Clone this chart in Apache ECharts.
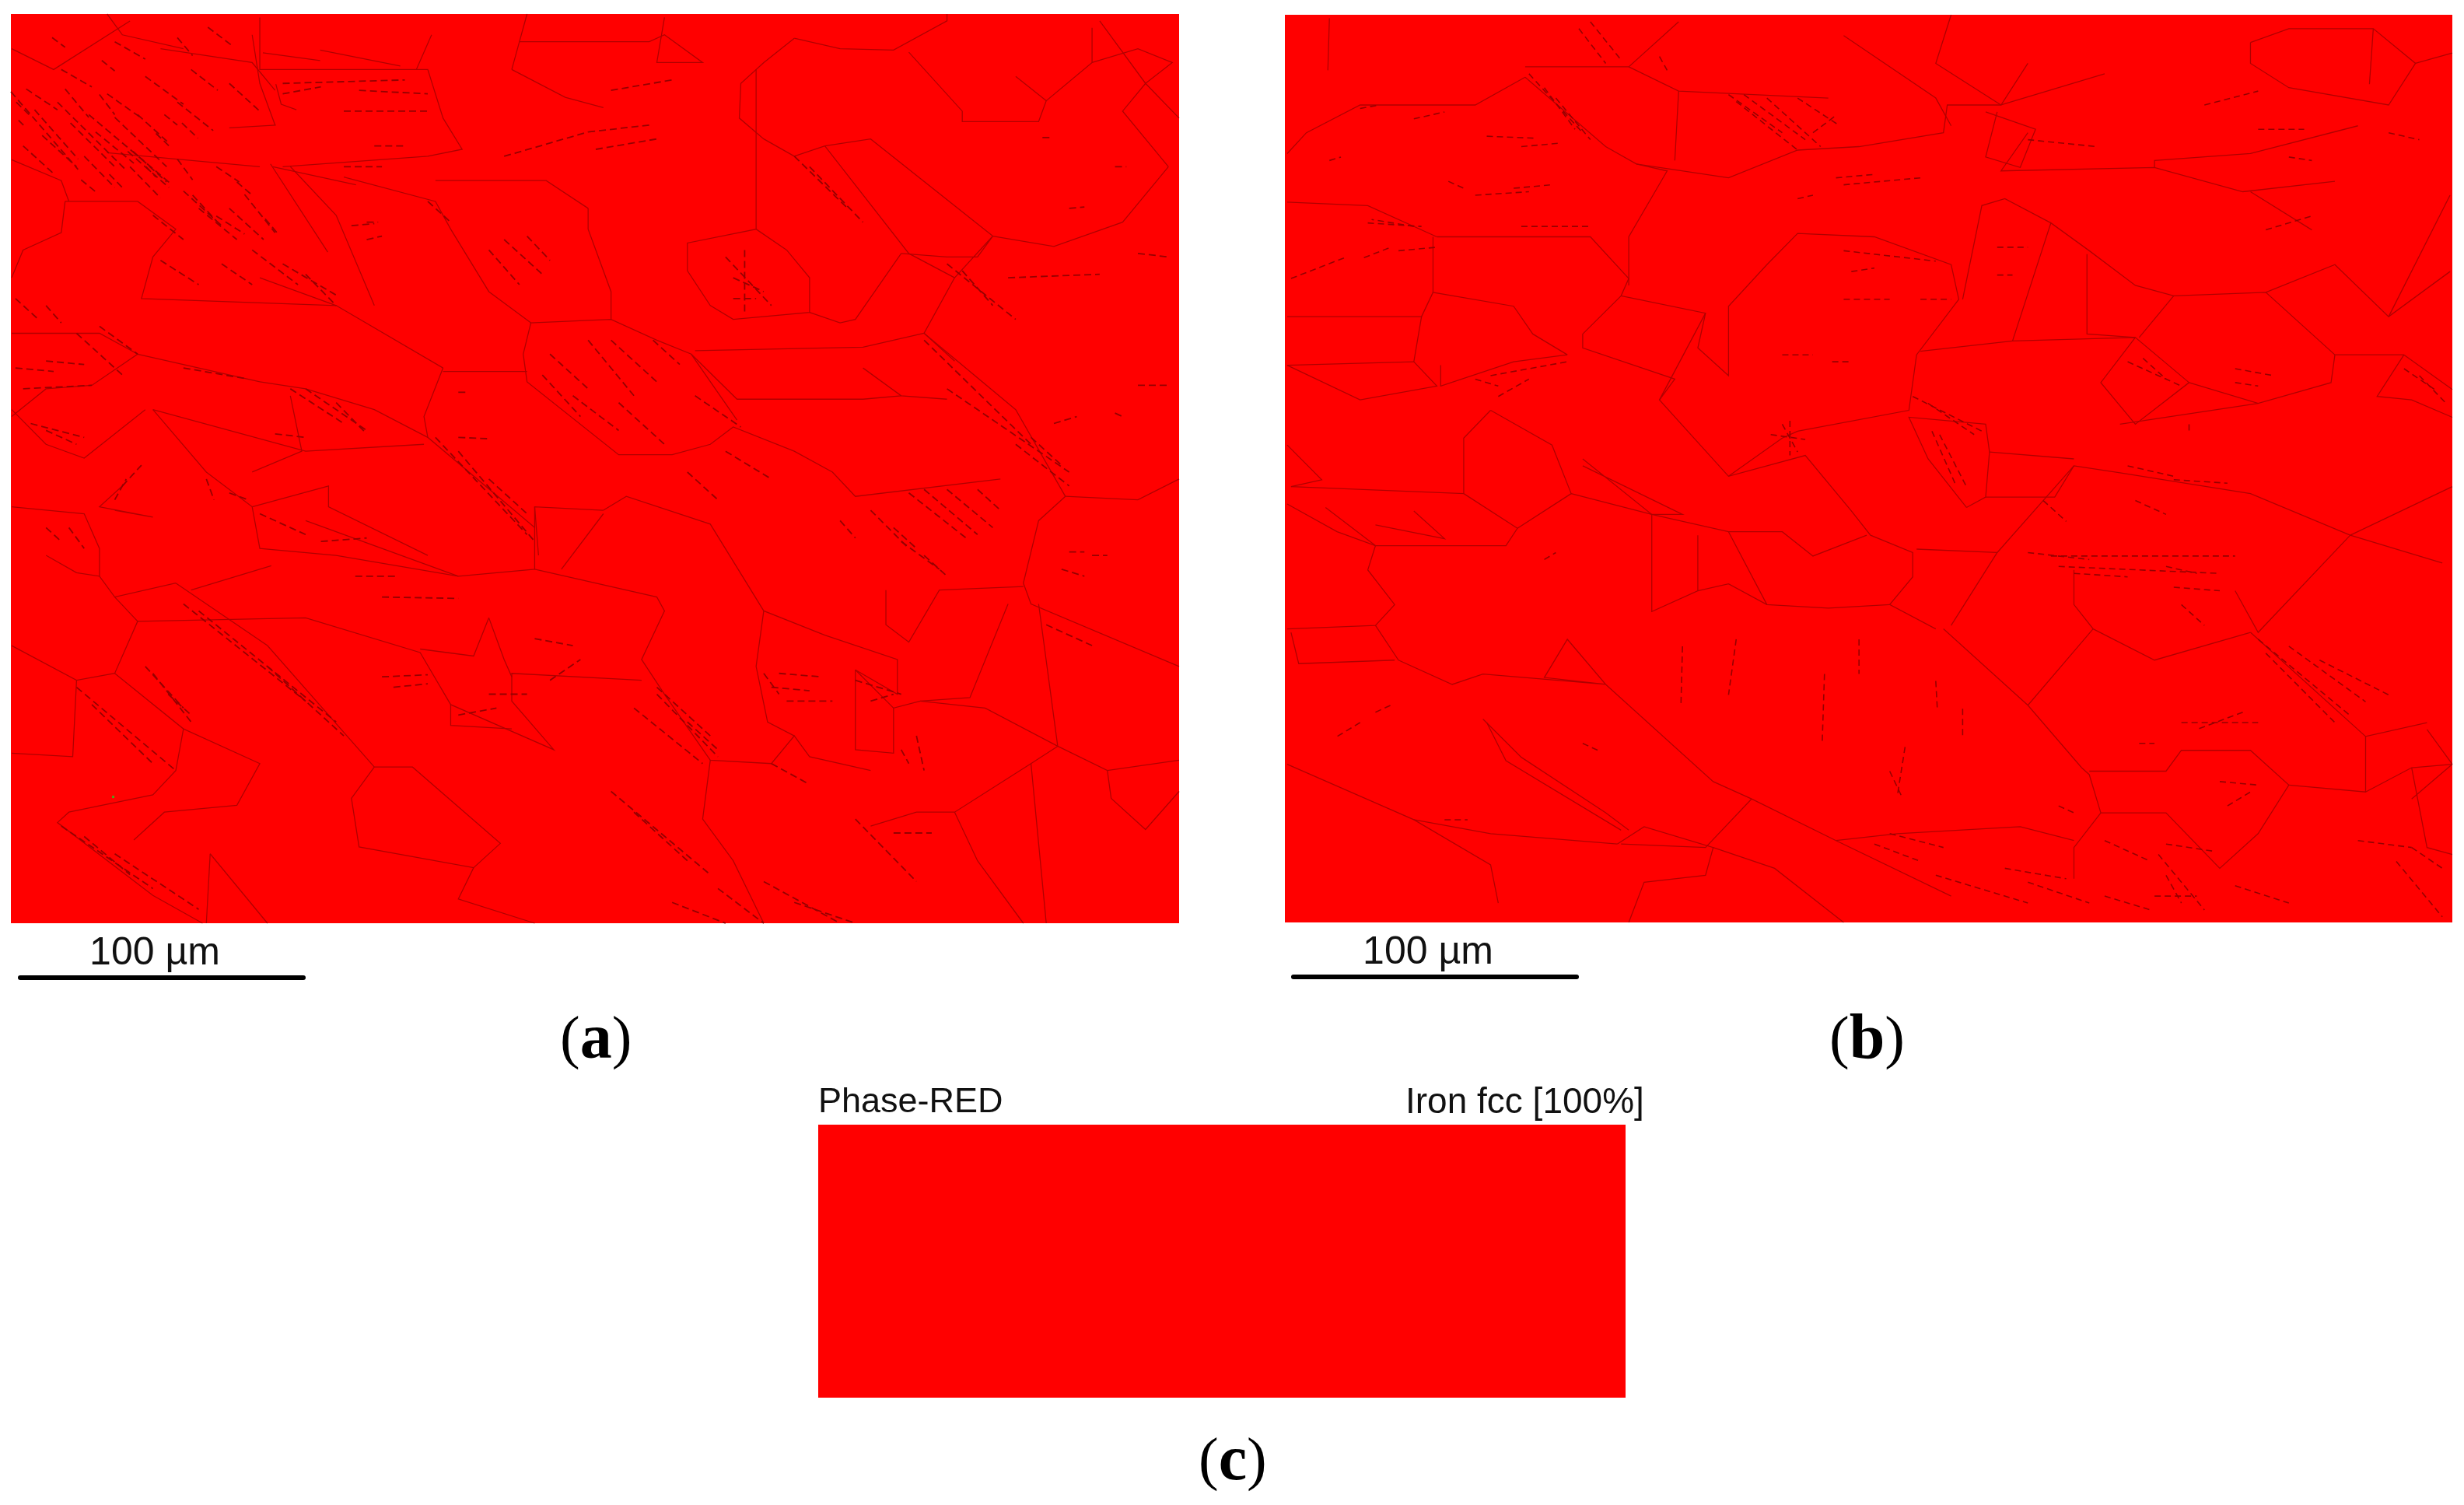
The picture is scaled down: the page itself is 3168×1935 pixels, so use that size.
<!DOCTYPE html>
<html>
<head>
<meta charset="utf-8">
<title>EBSD phase maps</title>
<script src="https://cdn.jsdelivr.net/npm/echarts@6/dist/echarts.min.js"></script>
<style>
html, body { margin: 0; padding: 0; background: #fff; }
#main { width: 3168px; height: 1935px; }
</style>
</head>
<body>
<div id="main"></div>
<script>
// map coordinates. every row is x,y,x,y...
var grainsA = [
[1040,55,1000,90,970,120,968,170,1000,200,1040,225],[1040,55,1100,70,1170,72,1240,30,1240,20],
[990,100,990,330,900,350,900,390,930,440,960,460,1060,450,1060,400,1030,360,990,330],
[1040,225,1080,210,1140,200,1300,340],[1080,210,1190,365,1250,400,1210,480,1250,520],
[1180,365,1120,460,1100,465,1060,450],[1250,400,1300,340,1280,370,1240,370,1180,365],
[1300,340,1380,355,1470,320,1530,240],[1190,75,1260,160,1260,175,1360,175,1370,145,1430,90,1430,40],
[1370,145,1330,110],[1500,120,1470,160,1530,240],[1500,120,1535,90,1490,70,1430,90],[1440,30,1500,120,1544,170],
[910,505,1130,500,1210,480],[905,510,965,575,1130,575,1180,570],[1130,530,1180,570,1240,575],
[1210,480,1330,590,1395,715],[1395,715,1360,750,1340,840,1350,870,1544,960],[1395,715,1490,720,1544,690],
[1310,690,1120,715,1090,680,1040,650,960,615,930,640,880,655,810,655,690,550,685,510,695,465,800,460,860,490,905,510,965,605],
[695,465,640,420,590,330,570,290,450,255],[770,300,770,330,800,420,800,460],[570,260,715,260,770,300],
[580,530,440,440,340,400],[580,530,555,600,560,630,700,760],[580,535,690,535],[340,550,400,560,490,590,560,630],
[200,590,270,680,330,730,340,790,440,800,600,830,700,820,700,730,790,735],
[790,735,820,715,930,755,1000,880,1080,915,1175,950,1175,1000,1120,965],
[700,820,860,860,870,880,840,950,870,1000,930,1095,1010,1100,1040,1060,1060,1090,1140,1110],
[930,1095,920,1180,960,1240,1000,1330],[1000,880,990,960,1005,1040,1040,1060],
[1160,850,1160,900,1190,925,1230,850,1340,845],[1320,870,1270,1005,1205,1010,1170,1020,1120,965],
[1205,1010,1290,1020,1385,1075,1450,1110,1544,1095],[1360,870,1385,1075,1350,1100,1250,1170,1200,1170,1140,1190],
[1350,1100,1370,1330],[1450,1110,1455,1150,1500,1195,1544,1140],[1250,1170,1280,1240,1340,1330],
[1120,965,1120,1080,1170,1085,1170,1020],[230,840,350,930,490,1105,540,1105,655,1215,620,1250,470,1220,460,1150,490,1105],
[620,1250,600,1295,700,1330],[150,860,180,895,150,970,100,980,15,930],[180,895,400,890,550,940,590,1015,725,1080,670,1010,670,970,840,980],
[640,890,620,945,550,935],[640,890,660,950,670,975],[590,1015,590,1045,670,1050],[100,980,95,1090,15,1085],
[150,970,240,1050,230,1110,200,1145,90,1170,75,1185,200,1290,265,1330],[240,1050,340,1100,310,1160,215,1170,175,1210],
[275,1230,270,1330],[275,1230,350,1330],[190,590,110,660,60,640,15,590],[15,730,110,740,130,790,130,830,100,825,60,800],
[130,830,150,860,230,840],[330,730,430,700,430,730,560,800],[380,570,395,650,330,680],[200,590,400,650,555,640],
[700,730,705,800],[735,820,790,740],[85,290,180,290,230,330,200,370,185,430,440,440],[85,290,80,335,30,360,15,400],
[15,600,60,560,120,555,180,510,130,480,100,480,15,480],[180,510,340,550],[380,240,440,310,490,440],[330,50,340,120,360,180],
[340,25,340,100,545,100,565,50],[545,100,560,100,580,170,605,215,560,225,370,240],[680,60,850,60,870,50,920,90,860,90,870,25],
[670,100,680,60,690,20],[670,100,740,140,790,155],[15,70,70,100,170,30],[210,70,330,90,360,130],[140,220,340,240],
[15,230,80,260,90,290],[400,750,600,830],[250,850,355,815],[150,735,200,745,130,730,160,700],
[344,76,419,87],[419,72,524,95],[361,121,368,150,388,158],[300,184,361,180],[354,236,429,363],[357,240,466,266],[140,20,160,50,240,70]
];
var dashesA = [
[14,132,102,244],[21,147,38,165],[34,128,75,158],[24,173,34,184],[85,128,116,169],[130,136,150,165],[45,158,102,229],
[75,147,164,244],[92,177,150,240],[116,165,225,266],[150,169,218,240],[167,218,221,270],[174,218,218,262],[191,240,204,255],
[204,192,221,210],[232,147,279,188],[215,165,232,180],[238,177,259,199],[232,54,252,80],[272,39,303,65],[133,87,150,102],
[68,54,85,68],[143,251,160,270],[106,259,126,277],[232,229,252,259],[283,240,313,262],[310,262,330,281],[252,281,283,318],
[283,311,320,337],[347,315,364,337],[560,290,590,320],[640,360,680,410],[660,345,710,395],[690,340,720,375],[720,510,770,560],
[770,490,830,570],[800,490,860,550],[855,490,890,525],[710,540,760,600],[750,570,810,620],[810,580,870,640],[910,570,970,615],
[950,650,1010,690],[900,680,940,720],[1190,710,1265,775],[1210,705,1280,770],[1240,705,1300,760],[1280,705,1310,735],
[1140,735,1190,790],[1170,760,1200,790],[1100,750,1120,775],[1210,800,1240,830],[1180,780,1230,820],[640,690,690,740],
[570,630,690,770],[600,650,700,780],[380,560,450,610],[400,560,480,620],[440,580,480,625],[100,480,160,540],[130,470,180,510],
[40,610,110,630],[60,620,100,640],[60,760,80,780],[90,760,110,790],[190,960,240,1020],[200,970,250,1040],[220,1000,250,1030],
[240,870,400,1010],[260,880,440,1040],[350,960,450,1060],[100,990,230,1110],[120,1015,200,1100],[80,1190,200,1280],
[150,1230,260,1310],[110,1205,170,1260],[860,990,930,1060],[860,1000,940,1090],[900,1040,940,1080],[830,1020,920,1100],
[950,370,1010,440],[960,400,1000,420],[975,360,975,450],[960,430,990,430],[1040,225,1110,300],[1060,240,1130,320],
[1240,380,1330,460],[1260,390,1300,440],[1210,490,1350,640],[1240,560,1400,680],[1330,640,1400,700],[1350,630,1390,670],
[800,1140,930,1260],[830,1170,900,1240],[880,1300,950,1330],[940,1280,1000,1330],[1000,1270,1100,1330],[1040,1300,1120,1330],
[1010,1100,1060,1130],[1120,1180,1200,1270],[1170,1200,1220,1200],[1370,900,1430,930],[1120,980,1180,1000],[1140,1010,1170,1000],
[1020,970,1075,975],[1010,990,1060,995],[500,975,560,972],[515,990,560,985],[500,860,600,862],[465,830,520,830],
[800,130,880,115],[770,190,850,180],[780,215,860,200],[660,225,770,190],[370,120,530,115],[370,135,420,125],[470,130,560,135],
[450,160,560,160],[490,210,530,210],[450,240,500,240],[460,325,490,322],[1400,795,1420,795],[1430,800,1450,800],[1390,820,1420,830],
[1490,555,1530,555],[1380,610,1410,600],[1460,595,1470,600],[1490,365,1530,370],[1320,400,1440,395],[1400,300,1420,298],
[1365,198,1375,198],[1460,240,1475,240],[600,630,640,632],[600,565,612,565],[480,320,495,320],[480,345,500,340],
[30,210,70,250],[55,195,100,240],[110,225,150,270],[125,190,175,235],[170,240,210,285],[180,165,220,205],[140,135,185,170],
[240,275,290,325],[260,300,310,345],[300,300,345,345],[320,280,360,335],[200,310,240,345],[210,375,260,410],[330,360,390,410],
[370,380,440,425],[290,380,330,410],[400,395,440,440],[150,60,190,85],[80,100,120,125],[190,110,240,150],[300,120,340,160],
[250,100,285,130],[20,430,50,460],[60,440,80,465],[20,530,70,535],[30,560,120,555],[60,520,110,525],[240,530,320,545],[360,625,400,630],
[160,700,185,670],[150,720,165,690],[270,690,280,720],[300,710,325,720],[340,740,400,770],[420,780,480,775],[640,1000,690,1000],
[600,1030,650,1020],[700,920,750,930],[720,980,760,950],[1000,970,1020,1000],[1030,1010,1090,1010],[1200,1060,1210,1110],[1180,1080,1190,1100]
];
var grainsB = [
[90,25,88,100],[35,220,60,190,130,150,280,150,345,110],[345,95,480,95,545,30],[480,95,545,130,740,140],
[345,110,450,210,490,235,610,255,700,215,780,210,890,190,895,150,965,150,1000,90],[545,130,540,230],[490,235,530,245,480,340,480,410],
[230,340,430,340,480,400,470,425,420,480,420,500,540,545,520,575,610,685,710,655,770,735,795,770,850,795,850,830,820,870,880,905],
[225,340,225,420,330,440,355,480,400,510],[35,455,210,455,200,520,230,555,130,575,35,525],[210,455,225,420],[200,520,35,525],
[235,525,235,555,330,520,400,510],[470,425,580,450,570,500,610,540,610,440,660,380,700,335,800,340,900,380,910,430,855,510,845,590,700,620,680,630,610,685],
[580,450,520,575],[300,590,265,630,265,710,40,700],[300,590,380,640,405,710,335,760,320,785,150,785,100,765,35,725],[265,710,335,760],
[405,710,510,740,610,765,680,765,720,800,790,770],[610,765,660,870,740,875,820,870],[510,740,510,880,570,850,570,770],[570,850,610,840,660,870],
[150,785,140,820,175,870,150,900,35,905],[150,900,180,950,250,985,290,970,450,985,370,975,400,920,450,985,590,1125,640,1150,750,1210],
[175,950,50,955,40,910],[890,905,1000,1015,1070,1105,1080,1115,1095,1170,1060,1220,1060,1265],[1000,1015,1085,905,1060,870,1060,820],
[1085,905,1165,950,1290,910],[960,795,855,790],[960,795,1060,670,1120,680,1290,710,1420,770,1540,810],[960,795,900,900],
[945,715,1035,715,1060,670],[920,730,870,660,845,600,945,610,950,650,945,715,920,730],[950,650,1060,660],
[860,505,980,490,1140,485,1210,550,1140,610,1095,550,1140,485],[980,490,1030,320,1080,360,1140,410,1190,425,1310,420,1400,510,1490,510],
[1030,320,970,285,940,295,915,430],[1077,365,1077,480,1140,485],[1190,425,1145,485],[1400,510,1395,550,1300,580,1210,550],[1300,580,1120,610],
[1310,420,1400,380,1470,455,1550,390],[1470,455,1550,280],[1490,510,1455,570,1500,575,1553,600],[1490,510,1553,560],[1420,770,1300,910,1270,850],
[1420,770,1553,700],[1290,910,1440,1060,1520,1040],[1080,1110,1180,1110,1200,1080,1290,1080,1340,1130,1300,1200,1250,1250,1180,1170,1095,1170],
[1440,1060,1440,1140,1340,1130],[1440,1140,1500,1105,1553,1100],[1500,1105,1520,1220,1553,1230],[1520,1050,1553,1100],
[1290,60,1340,40,1450,40,1505,90,1470,150,1340,125,1290,90,1290,60],[1450,40,1445,120],[965,150,1100,105],
[1000,190,965,245,1165,240,1280,275,1400,260],[1165,240,1165,230,1290,220,1430,180],[945,160,1010,185,990,240,945,225,960,160],[1290,275,1370,330],
[760,50,880,140,900,180],[900,20,880,90,965,150],[35,1100,200,1180,300,1245,310,1300],[465,1215,300,1200,200,1180],
[465,1215,500,1190,590,1220,580,1260,500,1270,480,1328],[470,1215,580,1220,640,1150],[590,1220,670,1250,760,1328],
[750,1210,830,1200,990,1190,1060,1210],[750,1210,900,1290],[1553,1100,1500,1150],[420,660,510,740,550,740,420,670],
[290,1035,340,1090,450,1170,480,1195],[295,1040,320,1095,470,1195],[35,640,80,690,40,700],[35,290,140,295,230,340],[1505,90,1553,75],
[85,730,150,785],[200,735,240,775,150,755]
];
var dashesB = [
[610,135,680,190],[630,135,710,200],[660,140,730,210],[700,140,755,180],[720,190,750,165],[620,145,700,215],
[350,105,420,190],[370,125,410,185],[385,140,430,200],[415,40,450,90],[430,30,470,85],[520,80,530,100],[1300,920,1420,1030],
[1310,940,1400,1040],[1340,930,1440,1010],[1380,950,1470,1000],[680,610,700,650],[665,625,710,632],[690,605,690,655],
[1030,800,1270,800],[1040,815,1250,825],[1060,825,1130,830],[1180,815,1220,825],[1000,795,1080,805],[1190,845,1250,850],
[1200,870,1230,900],[300,540,400,520],[310,570,350,545],[280,545,310,555],[1130,520,1200,555],[1150,515,1180,545],
[1180,1260,1200,1300],[1165,1290,1220,1290],[850,570,940,620],[870,580,930,625],[875,620,905,695],[885,625,920,700],
[550,930,548,1015],[620,920,610,1000],[735,970,732,1070],[780,920,780,970],[915,1020,915,1060],[880,980,882,1020],
[820,1110,835,1145],[840,1075,830,1145],[340,210,390,205],[295,195,360,198],[330,270,380,265],[280,280,350,275],[245,260,265,270],
[200,325,145,315],[340,325,430,325],[40,400,110,370],[135,370,170,355],[760,265,860,255],[750,255,800,250],[760,360,880,375],
[770,390,800,385],[760,430,820,430],[860,430,900,430],[700,285,720,280],[960,355,1000,355],[960,395,980,395],[680,510,720,510],
[745,520,770,520],[1200,1040,1300,1040],[1280,1025,1220,1050],[1145,1070,1165,1070],[1250,1125,1300,1130],[1260,1160,1290,1140],
[820,1200,890,1220],[1100,1210,1160,1240],[1180,1215,1240,1225],[1000,1270,1080,1300],[1430,1210,1500,1220],[1480,1240,1540,1320],
[1270,1275,1340,1300],[880,1260,1000,1300],[1230,150,1300,130],[1300,185,1360,185],[1340,225,1370,230],[1470,190,1510,200],
[1310,330,1370,310],[200,170,240,160],[1270,530,1320,540],[1270,550,1300,555],[1140,720,1180,740],[1020,720,1050,750],
[240,1180,270,1180],[1040,1160,1060,1170],[420,1070,440,1080],[130,1040,100,1060],[150,1025,170,1015],[370,805,385,795],[1210,610,1210,620],
[180,360,230,355],[140,320,210,325],[130,155,155,150],[90,230,105,225],[1490,530,1530,560],[1510,540,1545,580],[1130,670,1190,685],
[1190,690,1260,695],[1000,200,1090,210],[1170,1230,1230,1310],[1100,1290,1160,1310],[1500,1220,1540,1250],[970,1250,1050,1265],[800,1215,860,1240]
];
var greenPoints = [[148,1148]];

var phaseNames = ['Iron fcc'];
var phaseShare = [100];

var mapColor = '#ff0000', grainColor = '#b00000', dashColor = '#960000';

function pairs(row) {
    var out = [];
    for (var i = 0; i < row.length; i += 2) out.push([row[i], row[i + 1]]);
    return {coords: out};
}
function boundarySeries(rows, idx, color, width, dash) {
    return {
        type: 'lines', coordinateSystem: 'cartesian2d', polyline: true, silent: true,
        xAxisIndex: idx, yAxisIndex: idx,
        lineStyle: {color: color, width: width, opacity: 1, type: dash || 'solid'},
        data: rows.map(pairs)
    };
}
function caption(letter, x, y) {
    return {
        type: 'text', left: x, top: y,
        style: {
            text: '(' + '{b|' + letter + '})',
            font: '77px "Liberation Serif"', fill: '#000',
            rich: {b: {font: 'bold 82px "Liberation Serif"', fill: '#000'}}
        }
    };
}
function flatText(str, x, y, size) {
    return {type: 'text', left: x, top: y, style: {text: str, font: size + 'px "Liberation Sans"', fill: '#111'}};
}
function scaleAxis(idx) {
    return {
        type: 'value', gridIndex: idx, min: 0, max: 100, position: 'top', name: '100 \u00b5m',
        nameLocation: 'middle', nameGap: 6,
        nameTextStyle: {fontFamily: 'Liberation Sans', fontSize: 50, color: '#111', padding: [0, 18, 0, 0]},
        axisLine: {show: true, onZero: false, lineStyle: {color: '#000', width: 6}},
        axisTick: {show: false}, axisLabel: {show: false}, splitLine: {show: false}
    };
}
function hiddenY(idx) {
    return {type: 'value', gridIndex: idx, min: 0, max: 1, show: false};
}

var chart = echarts.init(document.getElementById('main'), null, {renderer: 'canvas'});
chart.setOption({
    backgroundColor: '#fff',
    animation: false,
    grid: [
        {left: 14, top: 18, width: 1502, height: 1169, show: true, backgroundColor: mapColor, borderWidth: 0},
        {left: 1652, top: 19, width: 1501, height: 1167, show: true, backgroundColor: mapColor, borderWidth: 0},
        {left: 1052, top: 1446, width: 1038, height: 351},
        {left: 26, top: 1257, width: 364, height: 1},
        {left: 1663, top: 1256, width: 364, height: 1}
    ],
    xAxis: [
        {type: 'value', gridIndex: 0, min: 14, max: 1544, show: false},
        {type: 'value', gridIndex: 1, min: 32, max: 1553, show: false},
        {type: 'value', gridIndex: 2, min: 0, max: 100, show: false},
        scaleAxis(3),
        scaleAxis(4)
    ],
    yAxis: [
        {type: 'value', gridIndex: 0, min: 20, max: 1330, inverse: true, show: false},
        {type: 'value', gridIndex: 1, min: 20, max: 1328, inverse: true, show: false},
        {type: 'category', gridIndex: 2, data: phaseNames, show: false},
        hiddenY(3),
        hiddenY(4)
    ],
    series: [
        boundarySeries(grainsA, 0, grainColor, 1.3),
        boundarySeries(dashesA, 0, dashColor, 1.8, [9, 5]),
        boundarySeries(grainsB, 1, grainColor, 1.3),
        boundarySeries(dashesB, 1, dashColor, 1.6, [8, 5]),
        {
            type: 'scatter', xAxisIndex: 0, yAxisIndex: 0, data: greenPoints, symbol: 'rect', symbolSize: 3,
            itemStyle: {color: '#22cc22'}, silent: true
        },
        {
            type: 'bar', xAxisIndex: 2, yAxisIndex: 2, data: phaseShare, barWidth: '100%',
            itemStyle: {color: mapColor}, silent: true
        }
    ],
    graphic: [
        caption('a', 720, 1298),
        caption('b', 2352, 1298),
        caption('c', 1541, 1840),
        flatText('Phase-RED', 1052, 1395, 45),
        flatText('Iron fcc [100%]', 1807, 1395, 46)
    ]
});
</script>
</body>
</html>
